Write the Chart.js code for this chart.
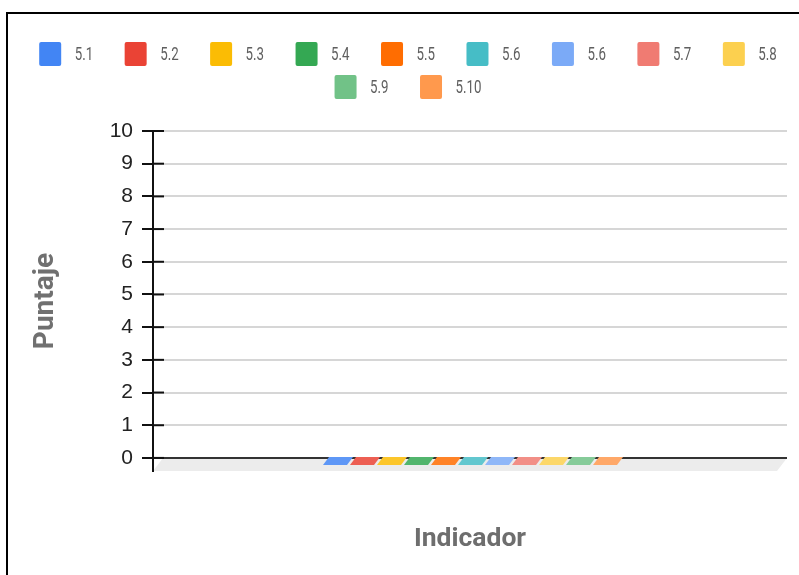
<!DOCTYPE html>
<html>
<head>
<meta charset="utf-8">
<script src="https://cdn.jsdelivr.net/npm/chart.js@4.4.0/dist/chart.umd.min.js"></script>
<style>
    html, body { margin: 0; padding: 0; background: #fff; }
    #wrap { position: relative; width: 799px; height: 575px; overflow: hidden; }
    #frame {
        position: absolute; left: 6px; top: 12px; width: 900px; height: 700px;
        border-left: 2px solid #000; border-top: 2px solid #000; pointer-events: none;
    }
</style>
</head>
<body>
<div id="wrap">
    <canvas id="chart" width="799" height="575"></canvas>
    <div id="frame"></div>
</div>
<script>
// one unnamed category, eleven indicator series, all at zero
const categories = [''];
const seriesLabels = ['5.1', '5.2', '5.3', '5.4', '5.5', '5.6', '5.6', '5.7', '5.8', '5.9', '5.10'];
const seriesValues = [0, 0, 0, 0, 0, 0, 0, 0, 0, 0, 0];
const yTicks = [0, 1, 2, 3, 4, 5, 6, 7, 8, 9, 10];

const seriesColors = ['#4285f4', '#ea4335', '#fbbc04', '#34a853', '#ff6d01', '#46bdc6',
    '#7baaf7', '#f07b72', '#fcd04f', '#71c287', '#ff994d'];

function lighten(hex, amt) {
    const n = parseInt(hex.slice(1), 16);
    const r = (n >> 16) & 255, g = (n >> 8) & 255, b = n & 255;
    const f = c => Math.round(c + (255 - c) * amt);
    return `rgb(${f(r)}, ${f(g)}, ${f(b)})`;
}

// floor, zero line, flat bar tops and the Google-style legend
const googleLook = {
    id: 'googleLook',
    afterDatasetsDraw(chart) {
        const { ctx, chartArea, scales: { y } } = chart;
        const y0 = y.getPixelForValue(0);
        const left = chartArea.left, right = chartArea.right, bottom = chartArea.bottom;
        const skew = 10;
        ctx.save();

        ctx.fillStyle = '#ececec';
        ctx.beginPath();
        ctx.moveTo(left + skew, y0);
        ctx.lineTo(right, y0);
        ctx.lineTo(right - skew, bottom);
        ctx.lineTo(left, bottom);
        ctx.closePath();
        ctx.fill();

        ctx.strokeStyle = '#333';
        ctx.lineWidth = 2;
        ctx.beginPath();
        ctx.moveTo(left, y0);
        ctx.lineTo(right, y0);
        ctx.stroke();

        chart.data.datasets.forEach((ds, i) => {
            chart.getDatasetMeta(i).data.forEach(bar => {
                const x1 = bar.x - bar.width / 2, x2 = bar.x + bar.width / 2;
                const h = 7, s = 6;
                ctx.fillStyle = lighten(seriesColors[i], 0.15);
                ctx.beginPath();
                ctx.moveTo(x1 + s, y0 - 1);
                ctx.lineTo(x2 + s, y0 - 1);
                ctx.lineTo(x2, y0 + h);
                ctx.lineTo(x1, y0 + h);
                ctx.closePath();
                ctx.fill();
            });
        });

        ctx.strokeStyle = '#111';
        ctx.lineWidth = 2;
        y.ticks.forEach(t => {
            const py = y.getPixelForValue(t.value);
            ctx.beginPath();
            ctx.moveTo(left, py);
            ctx.lineTo(left + 11, py);
            ctx.stroke();
        });
        ctx.beginPath();
        ctx.moveTo(left, chartArea.top);
        ctx.lineTo(left, bottom);
        ctx.stroke();
        ctx.restore();
    },
    afterDraw(chart) {
        const ctx = chart.ctx;
        const squeeze = 0.7, boxW = 22, boxH = 24, gap = 13.5, spacing = 31.5;
        const centerX = 408, maxWidth = 780, firstTop = 42, rowStep = 33;
        ctx.save();
        ctx.font = '19px Roboto';
        const items = seriesLabels.map((t, i) => {
            const tw = ctx.measureText(t).width * squeeze;
            return { text: t, color: seriesColors[i], w: boxW + gap + tw };
        });
        const rows = [[]];
        let used = 0;
        items.forEach(it => {
            const add = rows[rows.length - 1].length ? spacing + it.w : it.w;
            if (used + add > maxWidth) {
                rows.push([it]);
                used = it.w;
            } else {
                rows[rows.length - 1].push(it);
                used += add;
            }
        });
        rows.forEach((row, r) => {
            const total = row.reduce((a, it) => a + it.w, 0) + spacing * (row.length - 1);
            let x = centerX - total / 2;
            const top = firstTop + r * rowStep;
            row.forEach(it => {
                ctx.fillStyle = it.color;
                ctx.beginPath();
                if (ctx.roundRect) ctx.roundRect(x, top, boxW, boxH, 2);
                else ctx.rect(x, top, boxW, boxH);
                ctx.fill();
                ctx.fillStyle = '#5f5f5f';
                ctx.textBaseline = 'middle';
                ctx.save();
                ctx.translate(x + boxW + gap, top + boxH / 2 + 1);
                ctx.scale(squeeze, 1);
                ctx.fillText(it.text, 0, 0);
                ctx.restore();
                x += it.w + spacing;
            });
        });
        ctx.restore();
    }
};

const ctx = document.getElementById('chart').getContext('2d');
new Chart(ctx, {
    type: 'bar',
    data: {
        labels: categories,
        datasets: seriesLabels.map((label, i) => ({
            label: label,
            data: [seriesValues[i]],
            backgroundColor: seriesColors[i],
            borderWidth: 0
        }))
    },
    options: {
        responsive: false,
        animation: false,
        devicePixelRatio: 1,
        datasets: {
            bar: { categoryPercentage: 0.4685, barPercentage: 0.889 }
        },
        layout: {
            padding: { top: 131, right: 12, bottom: 0, left: 0 }
        },
        plugins: {
            legend: { display: false },
            tooltip: { enabled: false }
        },
        scales: {
            x: {
                type: 'category',
                offset: true,
                grid: { display: false },
                border: { display: false },
                ticks: { display: false },
                title: {
                    display: true,
                    text: 'Indicador',
                    color: '#6e6e6e',
                    font: { family: 'Roboto', size: 26.5, weight: 'bold' },
                    padding: { top: 0, bottom: 20 }
                },
                afterFit(scale) { scale.height = 104; }
            },
            y: {
                min: -0.4,
                max: 10,
                afterBuildTicks(scale) {
                    scale.ticks = yTicks.map(v => ({ value: v }));
                },
                afterFit(scale) { scale.width = 153; },
                grid: {
                    color: c => (c.tick && c.tick.value === 0) ? 'rgba(0,0,0,0)' : '#d6d6d6',
                    lineWidth: 2,
                    tickColor: '#111',
                    tickLength: 11,
                    tickWidth: 2
                },
                border: { color: '#111', width: 2 },
                ticks: {
                    color: '#222',
                    padding: 9,
                    font: { family: "'Liberation Sans', Arial, sans-serif", size: 21 }
                },
                title: {
                    display: true,
                    text: 'Puntaje',
                    color: '#707070',
                    font: { family: 'Roboto', size: 28, weight: 'bold' },
                    padding: { top: 29, bottom: 0 }
                }
            }
        }
    },
    plugins: [googleLook]
});
</script>
</body>
</html>
